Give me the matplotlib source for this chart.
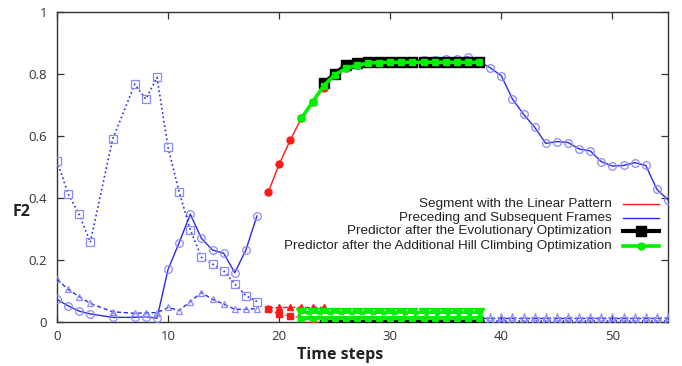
import matplotlib
matplotlib.use("Agg")
import matplotlib.pyplot as plt
from matplotlib.lines import Line2D

# ---------------- data ----------------
t_pre = [0, 1, 2, 3, 5, 7, 8, 9, 10, 11, 12, 13, 14, 15, 16, 17, 18]
circ_pre = [0.073, 0.052, 0.035, 0.026, 0.015, 0.015, 0.017, 0.012, 0.17, 0.256,
            0.348, 0.27, 0.232, 0.222, 0.159, 0.232, 0.342]
tri_pre = [0.138, 0.105, 0.082, 0.06, 0.033, 0.028, 0.03, 0.03, 0.047, 0.037,
           0.066, 0.095, 0.073, 0.058, 0.041, 0.041, 0.043]
sq_pre = [0.52, 0.413, 0.347, 0.257, 0.589, 0.767, 0.719, 0.789, 0.563, 0.419,
          0.297, 0.209, 0.187, 0.165, 0.123, 0.085, 0.066]

t_seg = [19, 20, 21, 22, 23, 24]
circ_seg = [0.418, 0.509, 0.587, 0.657, 0.709, 0.755]
tri_seg = [0.045, 0.047, 0.047, 0.047, 0.047, 0.047]
sq_seg = [0.042, 0.025, 0.02, 0.015, 0.01, 0.006]

t_post = list(range(24, 56))
circ_post = [0.77, 0.80, 0.82, 0.83, 0.835, 0.84, 0.84, 0.84, 0.84, 0.845, 0.845,
             0.85, 0.85, 0.855, 0.84, 0.82, 0.794, 0.719, 0.67, 0.628, 0.576,
             0.582, 0.579, 0.558, 0.552, 0.517, 0.503, 0.505, 0.514, 0.505,
             0.428, 0.394]
tri_post = [0.014] * 32
sq_post = [0.002] * 32

t_evo = list(range(24, 39))
circ_evo = [0.77, 0.80, 0.829, 0.836, 0.84, 0.84, 0.84, 0.84, 0.84, 0.84, 0.84,
            0.84, 0.84, 0.84, 0.84]
sq_evo = [0.002] * 15

t_hc = list(range(22, 39))
circ_hc = [0.657, 0.709, 0.762, 0.797, 0.818, 0.828, 0.835, 0.837, 0.838, 0.838,
           0.838, 0.838, 0.838, 0.838, 0.838, 0.838, 0.838]
tri_hc = [0.029] * 17
sq_hc = [0.013] * 17
gap_hc = [0.021] * 17

legend_labels = ["Segment with the Linear Pattern",
                 "Preceding and Subsequent Frames",
                 "Predictor after the Evolutionary Optimization",
                 "Predictor after the Additional Hill Climbing Optimization"]

# ---------------- figure ----------------
fig = plt.figure(figsize=(6.82, 3.66), dpi=100)
ax = fig.add_axes([57 / 682, 44 / 366, 611 / 682, 310 / 366])

BLUE = "#2b2bea"
MBLUE = "#8a8aff"
RED = "#ff1a1a"
GREEN = "#00f000"

# preceding frames
ax.plot(t_pre, circ_pre, '-', color=BLUE, lw=1.0, marker='o', ms=5.5,
        mfc='none', mec=MBLUE, mew=0.9, zorder=3)
ax.plot(t_pre, tri_pre, '--', color=BLUE, lw=1.0, marker='^', ms=5,
        mfc='none', mec=MBLUE, mew=0.9, dashes=(3, 2), zorder=3)
ax.plot(t_pre, sq_pre, ':', color=BLUE, lw=1.2, marker='s', ms=5.5,
        mfc='none', mec=MBLUE, mew=0.9, zorder=3)

# subsequent frames
ax.plot(t_post, circ_post, '-', color=BLUE, lw=1.0, marker='o', ms=5.5,
        mfc='none', mec=MBLUE, mew=0.9, zorder=3)
ax.plot(t_post, sq_post, ':', color=BLUE, lw=1.2, marker='s', ms=5,
        mfc='none', mec=MBLUE, mew=0.9, zorder=3)
ax.plot(t_post, tri_post, '--', color=BLUE, lw=1.0, marker='*', ms=6.5,
        mfc='none', mec=MBLUE, mew=0.9, dashes=(3, 2), zorder=3)

# linear pattern segment
ax.plot(t_seg, circ_seg, '-', color=RED, lw=1.0, marker='o', ms=5,
        mfc=RED, mec=RED, zorder=4)
ax.plot(t_seg, tri_seg, '--', color=RED, lw=1.0, marker='^', ms=5,
        mfc=RED, mec=RED, zorder=4)
ax.plot(t_seg, sq_seg, ':', color=RED, lw=1.0, marker='s', ms=5,
        mfc=RED, mec=RED, zorder=4)

# evolutionary predictor
ax.plot(t_evo, circ_evo, '-', color='black', lw=3.0, marker='s', ms=7,
        mfc='black', mec='black', zorder=5)
ax.plot(t_evo, sq_evo, '-', color='black', lw=3.0, marker='s', ms=6,
        mfc='black', mec='black', zorder=5)

# hill climbing predictor
ax.plot(t_hc, circ_hc, '-', color=GREEN, lw=2.6, marker='s', ms=5,
        mfc=GREEN, mec=GREEN, zorder=6)
ax.plot(t_hc, tri_hc, '-', color=GREEN, lw=3.0, marker='v', ms=7,
        mfc=GREEN, mec=GREEN, zorder=6)
ax.plot(t_hc, sq_hc, '-', color=GREEN, lw=3.0, marker='s', ms=4,
        mfc=GREEN, mec=GREEN, zorder=6)
ax.plot(t_hc, gap_hc, '--', color='white', lw=1.4, dashes=(3, 2.5), zorder=7)

# axes
ax.set_xlim(0, 55)
ax.set_ylim(0, 1)
ax.set_xticks([0, 10, 20, 30, 40, 50])
ax.set_yticks([0, 0.2, 0.4, 0.6, 0.8, 1.0])
ax.set_yticklabels(["0", "0.2", "0.4", "0.6", "0.8", "1"])
ax.tick_params(direction='in', length=5, width=0.9, top=True, right=True,
               labelsize=9.5, labelcolor='#333333', color='#333333')
ax.tick_params(axis='x', pad=6)
ax.tick_params(axis='y', pad=7)
for lbl in ax.get_xticklabels() + ax.get_yticklabels():
    lbl.set_family('Open Sans')
for sp in ax.spines.values():
    sp.set_color('#333333')
    sp.set_linewidth(1.0)

ax.set_xlabel("Time steps", fontsize=11.5, fontweight='bold', family='Open Sans',
              color='#222222')
ax.xaxis.set_label_coords((340 - 57) / 611, -(355 - 322) / 310)
ax.xaxis.label.set_va('center')
fig.text(22 / 682, 1 - 212 / 366, "F2", fontsize=11.5, fontweight='bold',
         family='Open Sans', color='#222222', ha='center', va='center')

# legend (gnuplot style: right aligned text, sample on the right)
leg_styles = [dict(color=RED, lw=1.0),
              dict(color=BLUE, lw=1.0),
              dict(color='black', lw=3.0, marker='s', ms=7),
              dict(color=GREEN, lw=2.6, marker='o', ms=5)]
row_y = [204, 218, 231, 246]
for lab, st, yy in zip(legend_labels, leg_styles, row_y):
    yf = (322 - yy) / 310
    ax.text((612 - 57) / 611, yf, lab, transform=ax.transAxes, ha='right',
            va='center', fontsize=9.7, family='Liberation Sans', color='#222222')
    ax.add_line(Line2D([(623 - 57) / 611, (641 - 57) / 611, (659 - 57) / 611],
                       [yf, yf, yf], transform=ax.transAxes,
                       markevery=[1], **st))

fig.savefig("out.png", dpi=100)
